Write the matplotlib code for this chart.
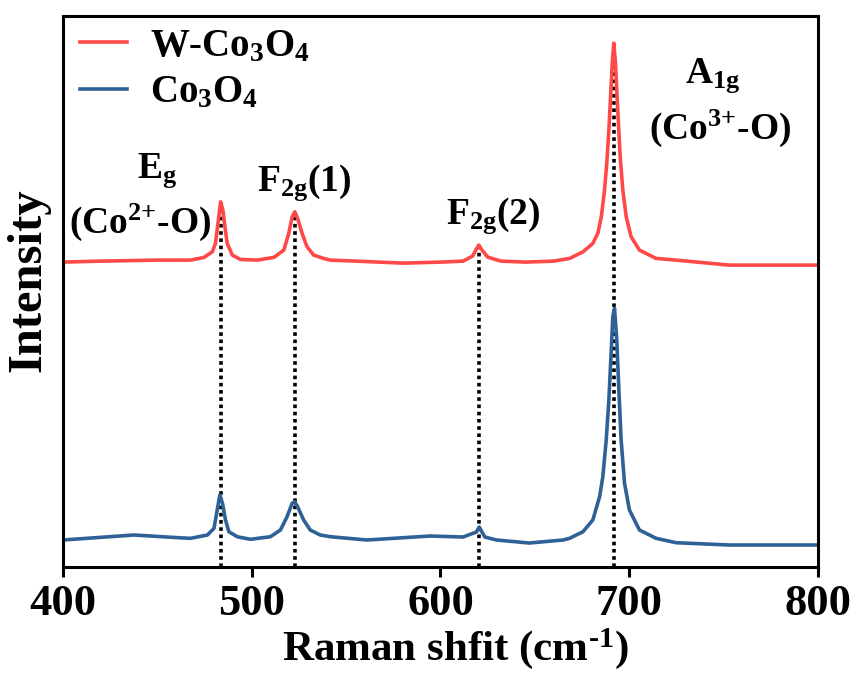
import numpy as np
import matplotlib
matplotlib.use("Agg")
import matplotlib.pyplot as plt

plt.rcParams['font.family'] = 'Liberation Serif'
plt.rcParams['font.weight'] = 'bold'
plt.rcParams['axes.labelweight'] = 'bold'
plt.rcParams['mathtext.fontset'] = 'custom'
plt.rcParams['mathtext.rm'] = 'Liberation Serif:bold'
plt.rcParams['mathtext.it'] = 'Liberation Serif:bold'
plt.rcParams['mathtext.bf'] = 'Liberation Serif:bold'
plt.rcParams['mathtext.default'] = 'rm'

# Raman shift (cm-1) and intensity (a.u., W-Co3O4 offset above Co3O4)
w_shift = [400, 420, 450, 467.6, 474.7, 479.1, 480.8, 482.1, 483.5, 484.7, 485.8,
           487, 489.7, 494, 502.9, 511.7, 517, 519.6, 521.4, 522.8, 524.3, 526.7,
           529.3, 532.8, 538.1, 541.6, 555, 580, 600, 612, 617, 619, 620.3, 622,
           625, 632, 645, 660, 668.4, 675.5, 680.7, 683.4, 685.2, 686.9, 688.1,
           689.2, 690.1, 691, 691.8, 692.7, 694, 695.2, 696.6, 698.4, 701, 705.4,
           714.2, 724.8, 753, 800]
w_int = [305, 306, 307, 307, 309.7, 315.3, 323.7, 343.7, 365.3, 357, 340.3,
         323.7, 312, 307.7, 307, 309.7, 317, 333.7, 350.3, 355.3, 348.7, 333.7,
         320.3, 312, 308.7, 307, 306, 304, 305, 306, 311, 318, 322, 317,
         310, 306, 305, 306, 308.7, 315.3, 323.7, 334, 350.3, 377, 404,
         437, 470.3, 504, 524, 504, 454, 410.3, 377, 350.3, 330.3, 317,
         308.7, 307, 302, 302]

co_shift = [400, 437.5, 464, 467.6, 476.5, 480, 481.7, 483.1, 484.5, 486.1, 487.9,
            492.3, 499.3, 509.9, 515.2, 518.7, 521.4, 522.6, 524.3, 527.5, 531,
            536.3, 541.6, 561, 594.5, 612, 619, 620.5, 623.5, 629.7, 647, 665,
            668.4, 675.5, 680.7, 684.3, 686, 687.8, 689.2, 690.3, 691.3, 692.2,
            693.4, 694.5, 695.7, 697.5, 700.1, 705.4, 714.2, 724.8, 753, 800]
co_int = [27, 32, 29, 28.7, 32, 38.7, 57, 72, 63.7, 47, 35.3,
          30.3, 27.7, 30.3, 37, 50.3, 63.7, 65.3, 60.3, 47, 37,
          32, 30.3, 27, 31, 30, 35, 40, 30, 27, 24, 27,
          28.7, 35.3, 47, 70.3, 90.3, 127, 167, 210.3, 250.3, 258.7,
          227, 177, 127, 83.7, 57, 37, 28.7, 24.3, 22, 22]

# band positions and the W-Co3O4 intensity at each band
peaks = [483.5, 522.8, 620.3, 691.8]
peak_tops = [365.3, 355.3, 322, 524]

fig = plt.figure(figsize=(8.56, 6.75), dpi=100)
ax = fig.add_axes([0.0736, 0.16, 0.882, 0.816])

ax.vlines(peaks, 0, peak_tops, colors='black', linestyles=(0, (1, 1)), linewidth=2.6, zorder=1)
ax.plot(w_shift, w_int, color='#ff4848', linewidth=2.6, label='W-Co$_3$O$_4$', zorder=2)
ax.plot(co_shift, co_int, color='#2f6196', linewidth=2.6, label='Co$_3$O$_4$', zorder=2)

ax.set_xlim(400, 800)
ax.set_ylim(0, 551)
ax.set_xticks([400, 500, 600, 700, 800])
ax.set_yticks([])
ax.tick_params(axis='x', direction='out', length=7, width=2.2, labelsize=32, pad=5)
for s in ax.spines.values():
    s.set_linewidth(2.2)

ax.set_xlabel(r'Raman shfit (cm$^{\text{-1}}$)', fontsize=31)
ax.xaxis.set_label_coords(0.519, -0.107)
ax.set_ylabel('Intensity', fontsize=35)
ax.yaxis.set_label_coords(-0.017, 0.52)

fs = 27
ax.text(450, 397, 'E$_g$', fontsize=fs, ha='center', va='center')
ax.text(441, 345, '(Co$^{2{+}}$-O)', fontsize=fs, ha='center', va='center')
ax.text(528, 385, 'F$_{2g}$(1)', fontsize=fs, ha='center', va='center')
ax.text(628, 352, 'F$_{2g}$(2)', fontsize=fs, ha='center', va='center')
ax.text(744, 492, 'A$_{1g}$', fontsize=fs, ha='center', va='center')
ax.text(748, 439, '(Co$^{3{+}}$-O)', fontsize=fs, ha='center', va='center')

ax.legend(loc='upper left', frameon=False, fontsize=28, handlelength=1.2,
          handletextpad=0.6, labelspacing=0.25, borderaxespad=0.0, borderpad=0.3,
          bbox_to_anchor=(0.007, 1.0))

fig.savefig('out.png', dpi=100)
